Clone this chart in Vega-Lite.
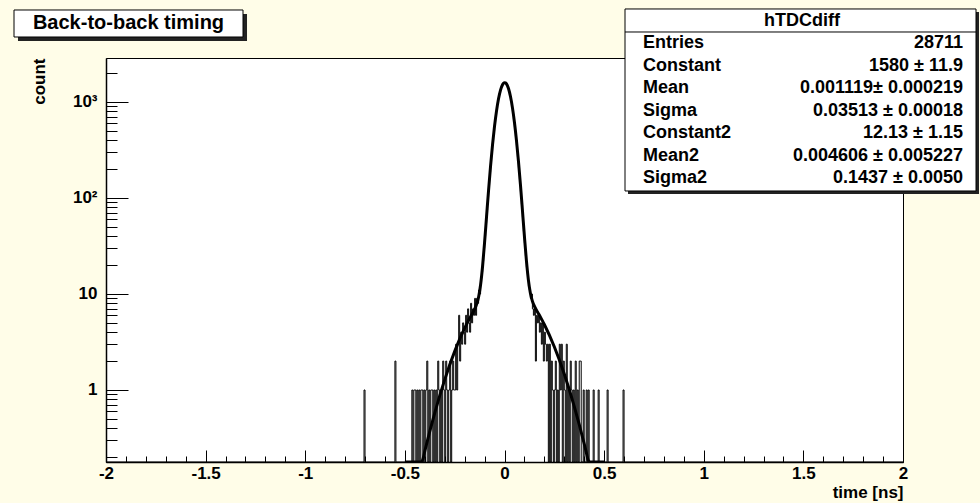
{
  "$schema": "https://vega.github.io/schema/vega-lite/v6.json",
  "width": 797,
  "height": 404,
  "autosize": {"type": "none"},
  "padding": {"left": 106, "top": 58, "right": 77, "bottom": 41},
  "background": "#fffde8",
  "config": {
    "view": {"stroke": "black", "strokeWidth": 1, "fill": "white"},
    "axis": {
      "labelFont": "Liberation Sans", "labelFontWeight": "bold", "labelFontSize": 17, "labelColor": "black",
      "titleFont": "Liberation Sans", "titleFontWeight": "bold", "titleFontSize": 17, "titleColor": "black",
      "domainColor": "black", "tickColor": "black", "grid": false, "domainWidth": 1.5, "tickWidth": 1
    },
    "text": {"font": "Liberation Sans", "fontWeight": "bold", "color": "black"}
  },
  "layer": [
    {
      "layer": [
        {
          "data": {"values": [
            {"x": -2, "count": 0}, {"x": -0.705, "count": 1}, {"x": -0.7, "count": 0}, {"x": -0.55, "count": 2}, {"x": -0.545, "count": 0},
            {"x": -0.465, "count": 1}, {"x": -0.46, "count": 0}, {"x": -0.455, "count": 1}, {"x": -0.45, "count": 1}, {"x": -0.445, "count": 0},
            {"x": -0.44, "count": 1}, {"x": -0.435, "count": 0}, {"x": -0.43, "count": 1}, {"x": -0.425, "count": 0}, {"x": -0.42, "count": 1},
            {"x": -0.415, "count": 1}, {"x": -0.41, "count": 0}, {"x": -0.405, "count": 1}, {"x": -0.4, "count": 0}, {"x": -0.395, "count": 1},
            {"x": -0.39, "count": 2}, {"x": -0.385, "count": 0}, {"x": -0.38, "count": 1}, {"x": -0.375, "count": 0}, {"x": -0.37, "count": 1},
            {"x": -0.365, "count": 1}, {"x": -0.36, "count": 0}, {"x": -0.355, "count": 1}, {"x": -0.35, "count": 0}, {"x": -0.345, "count": 1},
            {"x": -0.34, "count": 0}, {"x": -0.335, "count": 2}, {"x": -0.33, "count": 1}, {"x": -0.325, "count": 0}, {"x": -0.32, "count": 1},
            {"x": -0.315, "count": 0}, {"x": -0.31, "count": 2}, {"x": -0.305, "count": 1}, {"x": -0.3, "count": 0}, {"x": -0.295, "count": 2},
            {"x": -0.29, "count": 1}, {"x": -0.285, "count": 0}, {"x": -0.28, "count": 1}, {"x": -0.275, "count": 2}, {"x": -0.27, "count": 0},
            {"x": -0.265, "count": 1}, {"x": -0.26, "count": 2}, {"x": -0.255, "count": 1}, {"x": -0.25, "count": 1}, {"x": -0.245, "count": 3},
            {"x": -0.24, "count": 1}, {"x": -0.235, "count": 3}, {"x": -0.23, "count": 6}, {"x": -0.225, "count": 2}, {"x": -0.22, "count": 4},
            {"x": -0.215, "count": 3}, {"x": -0.21, "count": 5}, {"x": -0.205, "count": 4}, {"x": -0.2, "count": 3}, {"x": -0.195, "count": 6},
            {"x": -0.19, "count": 4}, {"x": -0.185, "count": 7}, {"x": -0.18, "count": 5}, {"x": -0.175, "count": 4}, {"x": -0.17, "count": 8},
            {"x": -0.165, "count": 5}, {"x": -0.16, "count": 7}, {"x": -0.155, "count": 6}, {"x": -0.15, "count": 9}, {"x": -0.145, "count": 6},
            {"x": -0.14, "count": 9}, {"x": -0.135, "count": 8}, {"x": -0.13, "count": 11}, {"x": -0.125, "count": 10}, {"x": -0.12, "count": 15},
            {"x": -0.115, "count": 17}, {"x": -0.11, "count": 22}, {"x": -0.105, "count": 30}, {"x": -0.1, "count": 40}, {"x": -0.095, "count": 55},
            {"x": -0.09, "count": 75}, {"x": -0.085, "count": 104}, {"x": -0.08, "count": 138}, {"x": -0.075, "count": 186}, {"x": -0.07, "count": 246},
            {"x": -0.065, "count": 312}, {"x": -0.06, "count": 400}, {"x": -0.055, "count": 499}, {"x": -0.05, "count": 617}, {"x": -0.045, "count": 738},
            {"x": -0.04, "count": 870}, {"x": -0.035, "count": 1005}, {"x": -0.03, "count": 1139}, {"x": -0.025, "count": 1262}, {"x": -0.02, "count": 1370},
            {"x": -0.015, "count": 1478}, {"x": -0.01, "count": 1530}, {"x": -0.005, "count": 1585}, {"x": 0, "count": 1575}, {"x": 0.005, "count": 1555},
            {"x": 0.01, "count": 1502}, {"x": 0.015, "count": 1420}, {"x": 0.02, "count": 1318}, {"x": 0.025, "count": 1192}, {"x": 0.03, "count": 1068},
            {"x": 0.035, "count": 925}, {"x": 0.04, "count": 800}, {"x": 0.045, "count": 660}, {"x": 0.05, "count": 552}, {"x": 0.055, "count": 440},
            {"x": 0.06, "count": 352}, {"x": 0.065, "count": 270}, {"x": 0.07, "count": 207}, {"x": 0.075, "count": 156}, {"x": 0.08, "count": 117},
            {"x": 0.085, "count": 86}, {"x": 0.09, "count": 63}, {"x": 0.095, "count": 45}, {"x": 0.1, "count": 34}, {"x": 0.105, "count": 25},
            {"x": 0.11, "count": 19}, {"x": 0.115, "count": 16}, {"x": 0.12, "count": 12}, {"x": 0.125, "count": 11}, {"x": 0.13, "count": 9},
            {"x": 0.135, "count": 10}, {"x": 0.14, "count": 7}, {"x": 0.145, "count": 6}, {"x": 0.15, "count": 7}, {"x": 0.155, "count": 2},
            {"x": 0.16, "count": 6}, {"x": 0.165, "count": 5}, {"x": 0.17, "count": 6}, {"x": 0.175, "count": 4}, {"x": 0.18, "count": 5},
            {"x": 0.185, "count": 3}, {"x": 0.19, "count": 5}, {"x": 0.195, "count": 2}, {"x": 0.2, "count": 4}, {"x": 0.205, "count": 3},
            {"x": 0.21, "count": 2}, {"x": 0.215, "count": 3}, {"x": 0.22, "count": 0}, {"x": 0.225, "count": 3}, {"x": 0.23, "count": 0},
            {"x": 0.235, "count": 2}, {"x": 0.24, "count": 1}, {"x": 0.245, "count": 0}, {"x": 0.25, "count": 1}, {"x": 0.255, "count": 2},
            {"x": 0.26, "count": 0}, {"x": 0.265, "count": 1}, {"x": 0.27, "count": 0}, {"x": 0.275, "count": 3}, {"x": 0.28, "count": 1},
            {"x": 0.285, "count": 3}, {"x": 0.29, "count": 0}, {"x": 0.295, "count": 2}, {"x": 0.3, "count": 1}, {"x": 0.305, "count": 0},
            {"x": 0.31, "count": 3}, {"x": 0.315, "count": 0}, {"x": 0.32, "count": 1}, {"x": 0.325, "count": 0}, {"x": 0.33, "count": 2},
            {"x": 0.335, "count": 1}, {"x": 0.34, "count": 0}, {"x": 0.345, "count": 1}, {"x": 0.35, "count": 0}, {"x": 0.355, "count": 2},
            {"x": 0.36, "count": 0}, {"x": 0.365, "count": 1}, {"x": 0.37, "count": 0}, {"x": 0.375, "count": 2}, {"x": 0.38, "count": 2},
            {"x": 0.385, "count": 0}, {"x": 0.395, "count": 1}, {"x": 0.4, "count": 0}, {"x": 0.41, "count": 1}, {"x": 0.415, "count": 0},
            {"x": 0.42, "count": 1}, {"x": 0.425, "count": 0}, {"x": 0.445, "count": 1}, {"x": 0.45, "count": 0}, {"x": 0.47, "count": 1},
            {"x": 0.475, "count": 0}, {"x": 0.515, "count": 1}, {"x": 0.52, "count": 0}, {"x": 0.595, "count": 1}, {"x": 0.6, "count": 0},
            {"x": 2, "count": 0}
          ]},
          "mark": {"type": "line", "interpolate": "step-after", "color": "black", "strokeWidth": 1, "invalid": null, "clip": true},
          "encoding": {
            "x": {"field": "x", "type": "quantitative",
              "scale": {"domain": [-2, 2], "nice": false, "zero": false},
              "axis": {"orient": "bottom", "values": [-2, -1.5, -1, -0.5, 0, 0.5, 1, 1.5, 2], "labelExpr": "datum.value + ''",
                "tickSize": -12, "labelPadding": 15, "title": "time [ns]", "titleAnchor": "end", "titlePadding": 3, "labelFlush": false}},
            "y": {"field": "count", "type": "quantitative",
              "scale": {"type": "log", "domain": [0.1778, 2872], "nice": false, "zero": false, "clamp": true},
              "axis": {"orient": "left", "values": [1, 10, 100, 1000],
                "labelExpr": "datum.value == 1 ? '1' : datum.value == 10 ? '10' : datum.value == 100 ? '10²' : '10³'",
                "tickSize": -22, "labelPadding": 31, "title": "count", "titleAnchor": "end", "titlePadding": 24}}
          }
        },
        {
          "data": {"values": [
            {"x": -0.5, "f": 0.0255}, {"x": -0.45, "f": 0.0814}, {"x": -0.43, "f": 0.1253}, {"x": -0.42, "f": 0.1542}, {"x": -0.41, "f": 0.1889},
            {"x": -0.4, "f": 0.2304}, {"x": -0.35, "f": 0.5776}, {"x": -0.3, "f": 1.283}, {"x": -0.25, "f": 2.525}, {"x": -0.2, "f": 4.402},
            {"x": -0.19, "f": 4.85}, {"x": -0.18, "f": 5.318}, {"x": -0.17, "f": 5.809}, {"x": -0.16, "f": 6.337}, {"x": -0.15, "f": 6.952},
            {"x": -0.14, "f": 7.805}, {"x": -0.13, "f": 9.313}, {"x": -0.12, "f": 12.47}, {"x": -0.11, "f": 19.45}, {"x": -0.1, "f": 34.4},
            {"x": -0.09, "f": 64.43}, {"x": -0.08, "f": 120.1}, {"x": -0.07, "f": 214.2}, {"x": -0.06, "f": 358.8}, {"x": -0.05, "f": 559.4},
            {"x": -0.04, "f": 808.1}, {"x": -0.03, "f": 1079}, {"x": -0.02, "f": 1331}, {"x": -0.01, "f": 1515}, {"x": -0.005, "f": 1568},
            {"x": 0, "f": 1591}, {"x": 0.005, "f": 1582}, {"x": 0.01, "f": 1542}, {"x": 0.02, "f": 1380}, {"x": 0.03, "f": 1139},
            {"x": 0.04, "f": 868.2}, {"x": 0.05, "f": 611.6}, {"x": 0.06, "f": 399.1}, {"x": 0.07, "f": 242}, {"x": 0.08, "f": 137.6},
            {"x": 0.09, "f": 74.51}, {"x": 0.1, "f": 39.8}, {"x": 0.11, "f": 22.23}, {"x": 0.12, "f": 13.94}, {"x": 0.13, "f": 10.18},
            {"x": 0.14, "f": 8.42}, {"x": 0.15, "f": 7.469}, {"x": 0.16, "f": 6.817}, {"x": 0.17, "f": 6.27}, {"x": 0.18, "f": 5.763},
            {"x": 0.19, "f": 5.278}, {"x": 0.2, "f": 4.812}, {"x": 0.25, "f": 2.822}, {"x": 0.3, "f": 1.466}, {"x": 0.35, "f": 0.675},
            {"x": 0.4, "f": 0.2754}, {"x": 0.41, "f": 0.2269}, {"x": 0.42, "f": 0.1859}, {"x": 0.43, "f": 0.1517}, {"x": 0.45, "f": 0.0995},
            {"x": 0.5, "f": 0.0318}
          ]},
          "mark": {"type": "line", "interpolate": "monotone", "color": "black", "strokeWidth": 3, "clip": true},
          "encoding": {
            "x": {"field": "x", "type": "quantitative",
              "axis": {"orient": "bottom", "values": [-1.9, -1.8, -1.7, -1.6, -1.4, -1.3, -1.2, -1.1, -0.9, -0.8, -0.7, -0.6, -0.4, -0.3, -0.2, -0.1, 0.1, 0.2, 0.3, 0.4, 0.6, 0.7, 0.8, 0.9, 1.1, 1.2, 1.3, 1.4, 1.6, 1.7, 1.8, 1.9],
                "labels": false, "domain": false, "tickSize": -6, "title": null}},
            "y": {"field": "f", "type": "quantitative",
              "axis": {"orient": "left", "values": [0.2, 0.3, 0.4, 0.5, 0.6, 0.7, 0.8, 0.9, 2, 3, 4, 5, 6, 7, 8, 9, 20, 30, 40, 50, 60, 70, 80, 90, 200, 300, 400, 500, 600, 700, 800, 900, 2000],
                "labels": false, "domain": false, "tickSize": -11, "title": null}}
          }
        }
      ],
      "resolve": {"axis": {"x": "independent", "y": "independent"}}
    },
    {
      "data": {"values": [{}]},
      "encoding": {
        "y": {"datum": 1, "type": "quantitative", "scale": {"type": "log", "domain": [0.1778, 2872], "nice": false, "zero": false}, "axis": null}
      },
      "layer": [
        {
          "mark": {"type": "rect", "fill": "#222222", "clip": false},
          "encoding": {
            "x": {"datum": -2.4417, "axis": null}, "x2": {"datum": -1.2923},
            "y": {"datum": 8254, "axis": null}, "y2": {"datum": 4320}
          }
        },
        {
          "mark": {"type": "rect", "fill": "white", "stroke": "black", "strokeWidth": 1, "clip": false},
          "encoding": {
            "x": {"datum": -2.4617, "axis": null}, "x2": {"datum": -1.3124},
            "y": {"datum": 9085, "axis": null}, "y2": {"datum": 4753}
          }
        },
        {
          "mark": {"type": "text", "fontSize": 20, "align": "center", "baseline": "middle", "clip": false, "text": "Back-to-back timing"},
          "encoding": {
            "x": {"datum": -1.8871, "axis": null},
            "y": {"datum": 6572, "axis": null}
          }
        },
        {
          "mark": {"type": "rect", "fill": "#222222", "clip": false},
          "encoding": {
            "x": {"datum": 0.6198, "axis": null}, "x2": {"datum": 2.3814},
            "y": {"datum": 8660, "axis": null}, "y2": {"datum": 110.1}
          }
        },
        {
          "mark": {"type": "rect", "fill": "white", "stroke": "black", "strokeWidth": 1, "clip": false},
          "encoding": {
            "x": {"datum": 0.6048, "axis": null}, "x2": {"datum": 2.3664},
            "y": {"datum": 9306, "axis": null}, "y2": {"datum": 118.3}
          }
        },
        {
          "mark": {"type": "rule", "color": "black", "strokeWidth": 1, "clip": false},
          "encoding": {
            "x": {"datum": 0.6048, "axis": null}, "x2": {"datum": 2.3664},
            "y": {"datum": 5360, "axis": null}
          }
        },
        {
          "mark": {"type": "text", "fontSize": 18, "align": "center", "baseline": "middle", "clip": false, "text": "hTDCdiff"},
          "encoding": {
            "x": {"datum": 1.4931, "axis": null},
            "y": {"datum": 6978, "axis": null}
          }
        }
      ]
    },
    {
      "data": {"values": [
        {"name": "Entries", "value": "28711"},
        {"name": "Constant", "value": "1580 ± 11.9"},
        {"name": "Mean", "value": "0.001119± 0.000219"},
        {"name": "Sigma", "value": "0.03513 ± 0.00018"},
        {"name": "Constant2", "value": "12.13 ± 1.15"},
        {"name": "Mean2", "value": "0.004606 ± 0.005227"},
        {"name": "Sigma2", "value": "0.1437 ± 0.0050"}
      ]},
      "encoding": {
        "y": {"field": "name", "type": "nominal", "sort": null, "scale": {"type": "point", "range": [-14.7, 120.3], "padding": 0}, "axis": null}
      },
      "layer": [
        {
          "mark": {"type": "text", "fontSize": 18, "align": "left", "baseline": "middle", "clip": false},
          "encoding": {"x": {"datum": 0.6951, "axis": null}, "text": {"field": "name"}}
        },
        {
          "mark": {"type": "text", "fontSize": 18, "align": "right", "baseline": "middle", "clip": false},
          "encoding": {"x": {"datum": 2.3011, "axis": null}, "text": {"field": "value"}}
        }
      ]
    }
  ],
  "resolve": {"scale": {"y": "independent"}}
}
